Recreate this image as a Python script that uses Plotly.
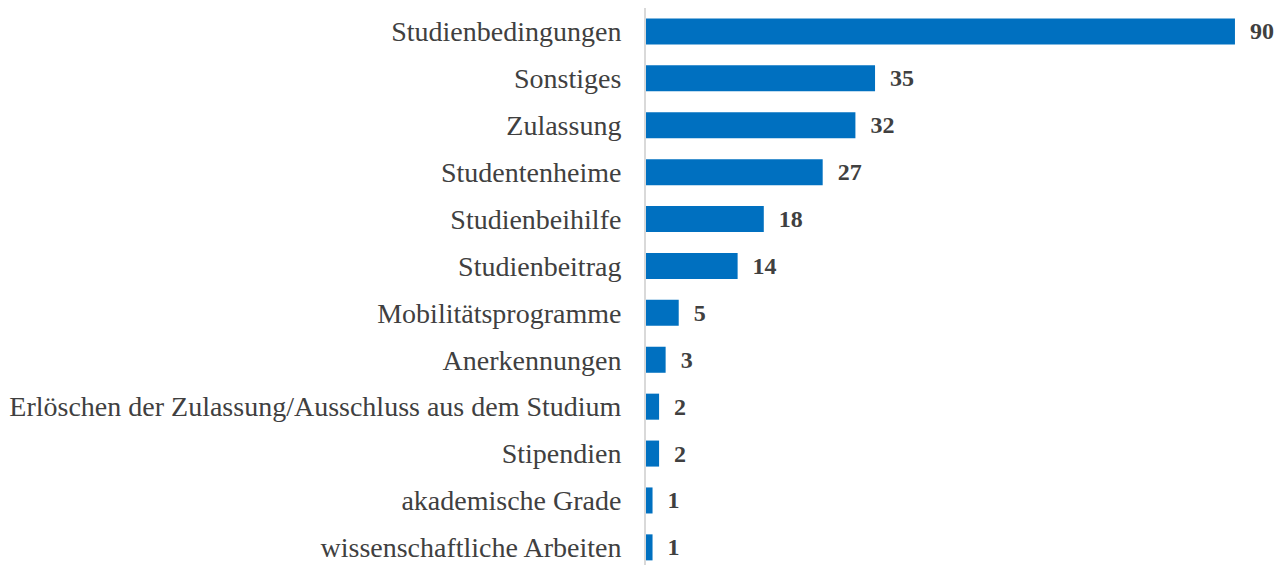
import plotly.graph_objects as go

categories = ["Studienbedingungen", "Sonstiges", "Zulassung", "Studentenheime",
              "Studienbeihilfe", "Studienbeitrag", "Mobilitätsprogramme",
              "Anerkennungen", "Erlöschen der Zulassung/Ausschluss aus dem Studium",
              "Stipendien", "akademische Grade", "wissenschaftliche Arbeiten"]
values = [90, 35, 32, 27, 18, 14, 5, 3, 2, 2, 1, 1]

fig = go.Figure(go.Bar(
    y=categories, x=values, orientation="h",
    marker=dict(color="#0070C0", line=dict(width=0)),
    text=values, texttemplate="\u00a0\u00a0%{x}", textposition="outside",
    textfont=dict(family="Liberation Serif", size=24, color="#404040", weight="bold"),
    cliponaxis=False,
))

fig.update_layout(
    width=1278, height=565,
    margin=dict(l=646, r=6, t=8, b=0, autoexpand=False),
    plot_bgcolor="white", paper_bgcolor="white",
    bargap=0.445,
    showlegend=False,
    font=dict(family="Liberation Serif", color="#404040"),
)
fig.update_xaxes(range=[0, 95.66], visible=False, automargin=False)
fig.update_yaxes(
    range=[11.376, -0.5], showline=True, linecolor="#D9D9D9", linewidth=2,
    ticks="", ticklabelstandoff=17, tickfont=dict(size=28, color="#404040"),
    showgrid=False, zeroline=False, automargin=False,
)

fig.write_html(
    "out.html",
    config={"displayModeBar": False},
    post_script="document.body.style.margin='0';document.body.style.overflow='hidden';",
)
